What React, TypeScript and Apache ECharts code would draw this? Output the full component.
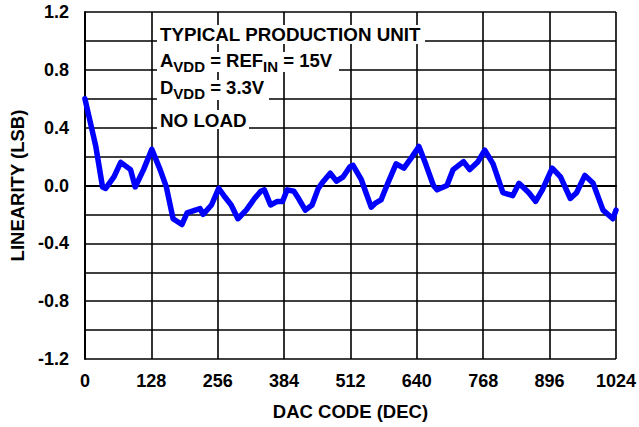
import React, { useEffect, useRef } from "react";
import * as echarts from "echarts";

const codes = [0, 21, 34, 40, 56, 69, 88, 97, 113, 129, 145, 157, 170, 187, 197, 213, 222, 228, 244, 258, 270, 282, 295, 311, 327, 339, 346, 358, 371, 381, 390, 403, 412, 425, 438, 450, 460, 473, 485, 498, 511, 517, 533, 542, 552, 561, 571, 584, 600, 615, 631, 644, 657, 672, 679, 698, 710, 730, 742, 758, 771, 787, 806, 825, 837, 856, 869, 882, 901, 917, 936, 948, 964, 980, 999, 1018, 1024];
const linearity = [0.6, 0.27, -0.01, -0.02, 0.06, 0.16, 0.11, -0.01, 0.11, 0.25, 0.11, -0.01, -0.23, -0.27, -0.19, -0.17, -0.16, -0.2, -0.135, -0.02, -0.08, -0.135, -0.23, -0.17, -0.09, -0.04, -0.03, -0.135, -0.11, -0.11, -0.03, -0.04, -0.09, -0.17, -0.135, -0.02, 0.03, 0.085, 0.03, 0.06, 0.13, 0.14, 0.04, -0.05, -0.15, -0.12, -0.1, 0.015, 0.15, 0.12, 0.2, 0.27, 0.15, 0.0, -0.03, 0.0, 0.11, 0.165, 0.11, 0.165, 0.245, 0.15, -0.05, -0.07, 0.015, -0.05, -0.11, -0.03, 0.12, 0.06, -0.09, -0.05, 0.07, 0.015, -0.17, -0.23, -0.17];

const xTicks = [0, 128, 256, 384, 512, 640, 768, 896, 1024];
const yLabelValues = [-1.2, -0.8, -0.4, 0.0, 0.4, 0.8, 1.2];

const FONT = "'Liberation Sans', Arial, sans-serif";

export default function App() {
  const ref = useRef<HTMLDivElement>(null);
  useEffect(() => {
    if (!ref.current) return;
    const chart = echarts.init(ref.current, null, { renderer: "svg" });
    const data = codes.map((c, i) => [c, linearity[i]]);
    const main = { fontSize: 18.5, fontWeight: "bold", fontFamily: FONT, color: "#000", lineHeight: 20, verticalAlign: "top" };
    const sub = { fontSize: 15, fontWeight: "bold", fontFamily: FONT, color: "#000", lineHeight: 23, verticalAlign: "bottom" };
    chart.setOption({
      animation: false,
      backgroundColor: "#fff",
      grid: { left: 80, top: 12, width: 538, height: 347, containLabel: false },
      xAxis: {
        type: "value",
        min: 0,
        max: 1024,
        interval: 128,
        name: "DAC CODE (DEC)",
        nameLocation: "middle",
        nameGap: 43,
        nameTextStyle: { fontSize: 18.5, fontWeight: "bold", fontFamily: FONT, color: "#000" },
        axisLine: { show: true, lineStyle: { color: "#000", width: 2 } },
        axisTick: { show: false },
        axisLabel: {
          margin: 13,
          fontSize: 18,
          fontWeight: "bold",
          fontFamily: FONT,
          color: "#000",
          formatter: (v: number) => (xTicks.includes(v) ? String(v) : ""),
        },
        splitLine: { show: true, lineStyle: { color: "#000", width: 1.6 } },
      },
      yAxis: {
        type: "value",
        min: -1.2,
        max: 1.2,
        interval: 0.2,
        name: "LINEARITY (LSB)",
        nameLocation: "middle",
        nameGap: 56,
        nameTextStyle: { fontSize: 18.5, fontWeight: "bold", fontFamily: FONT, color: "#000" },
        axisLine: { show: true, lineStyle: { color: "#000", width: 2 } },
        axisTick: { show: false },
        axisLabel: {
          margin: 16,
          fontSize: 18,
          fontWeight: "bold",
          fontFamily: FONT,
          color: "#000",
          formatter: (v: number) => {
            const hit = yLabelValues.find((y) => Math.abs(y - v) < 1e-6);
            return hit === undefined ? "" : hit.toFixed(1);
          },
        },
        splitLine: { show: true, lineStyle: { color: "#000", width: 1.6 } },
      },
      graphic: [
        { type: "rect", z: 100, shape: { x: 157, y: 25, width: 268, height: 19 }, style: { fill: "#fff" } },
        { type: "rect", z: 100, shape: { x: 157, y: 52, width: 182, height: 20 }, style: { fill: "#fff" } },
        { type: "rect", z: 100, shape: { x: 157, y: 80, width: 112, height: 20 }, style: { fill: "#fff" } },
        { type: "rect", z: 100, shape: { x: 157, y: 110, width: 92, height: 19 }, style: { fill: "#fff" } },
        {
          type: "text", z: 101, x: 160, y: 34.7,
          style: { text: "TYPICAL PRODUCTION UNIT", fontSize: 18.8, fontWeight: "bold", fontFamily: FONT, fill: "#000", verticalAlign: "middle" },
        },
        {
          type: "text", z: 101, x: 160, y: 50.5,
          style: { text: "{m|A}{s|VDD}{m| = REF}{s|IN}{m| = 15V}", verticalAlign: "top", rich: { m: main, s: sub } },
        },
        {
          type: "text", z: 101, x: 160, y: 78.3,
          style: { text: "{m|D}{s|VDD}{m| = 3.3V}", verticalAlign: "top", rich: { m: main, s: sub } },
        },
        {
          type: "text", z: 101, x: 160, y: 120.3,
          style: { text: "NO LOAD", fontSize: 18.8, fontWeight: "bold", fontFamily: FONT, fill: "#000", verticalAlign: "middle" },
        },
      ],
      series: [
        {
          type: "line",
          data,
          showSymbol: false,
          symbol: "none",
          smooth: false,
          lineStyle: { color: "#0000ff", width: 5.5, join: "round", cap: "round" },
          z: 10,
        },
      ],
    });
    return () => chart.dispose();
  }, []);
  return <div ref={ref} style={{ position: "fixed", left: 0, top: 0, width: 639, height: 427 }} />;
}
